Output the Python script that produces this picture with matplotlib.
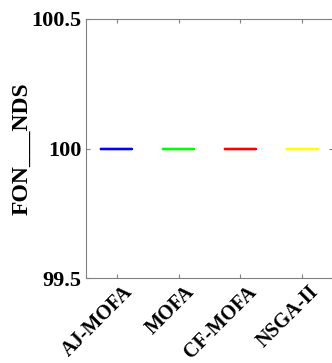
import matplotlib.pyplot as plt
import matplotlib.transforms as mtransforms

# data
algorithms = ['AJ-MOFA', 'MOFA', 'CF-MOFA', 'NSGA-II']
fon_nds = [[100, 100, 100], [100, 100, 100], [100, 100, 100], [100, 100, 100]]
colors = ['#0000ff', '#00ff00', '#ff0000', '#ffff00']
yticks = [99.5, 100, 100.5]
ytick_labels = ['99.5', '100', '100.5']

plt.rcParams['font.family'] = 'Liberation Serif'
plt.rcParams['font.weight'] = 'bold'

fig = plt.figure(figsize=(3.32, 3.63), dpi=100)
ax = fig.add_axes([86/332, 1 - 278/363, 1.003 - 86/332, (278 - 19)/363])

bp = ax.boxplot(fon_nds, positions=range(1, len(algorithms) + 1), widths=0.5,
                showfliers=False, showcaps=False)
for i, c in enumerate(colors):
    bp['boxes'][i].set(color=c, linewidth=1.6)
    bp['medians'][i].set(color=c, linewidth=1.6)
    for w in bp['whiskers'][2*i:2*i+2]:
        w.set(color=c, linewidth=1.6)

ax.set_xlim(0.5, 4.5)
ax.set_ylim(99.5, 100.5)
ax.set_yticks(yticks)
ax.set_yticklabels(ytick_labels)
ax.set_xticks(range(1, len(algorithms) + 1))
ax.set_xticklabels(algorithms, rotation=45, ha='right', va='center',
                   rotation_mode='anchor')
ax.tick_params(direction='in', length=3, color='#808080', top=True, right=True)
ax.tick_params(axis='y', pad=3)
ax.tick_params(axis='x', pad=8)

offset = mtransforms.ScaledTranslation(13/100, 0, fig.dpi_scale_trans)
for lbl in ax.get_xticklabels():
    lbl.set_transform(lbl.get_transform() + offset)
    lbl.set_fontsize(14.5)
    lbl.set_fontweight('bold')
for lbl in ax.get_yticklabels():
    lbl.set_fontsize(16)
    lbl.set_fontweight('bold')

for s in ax.spines.values():
    s.set_color('#808080')
    s.set_linewidth(0.8)

ax.set_ylabel('FON___NDS', fontsize=17, fontweight='bold')
ax.yaxis.set_label_coords(-0.215, 0.5)

fig.savefig('out.png', dpi=100)
